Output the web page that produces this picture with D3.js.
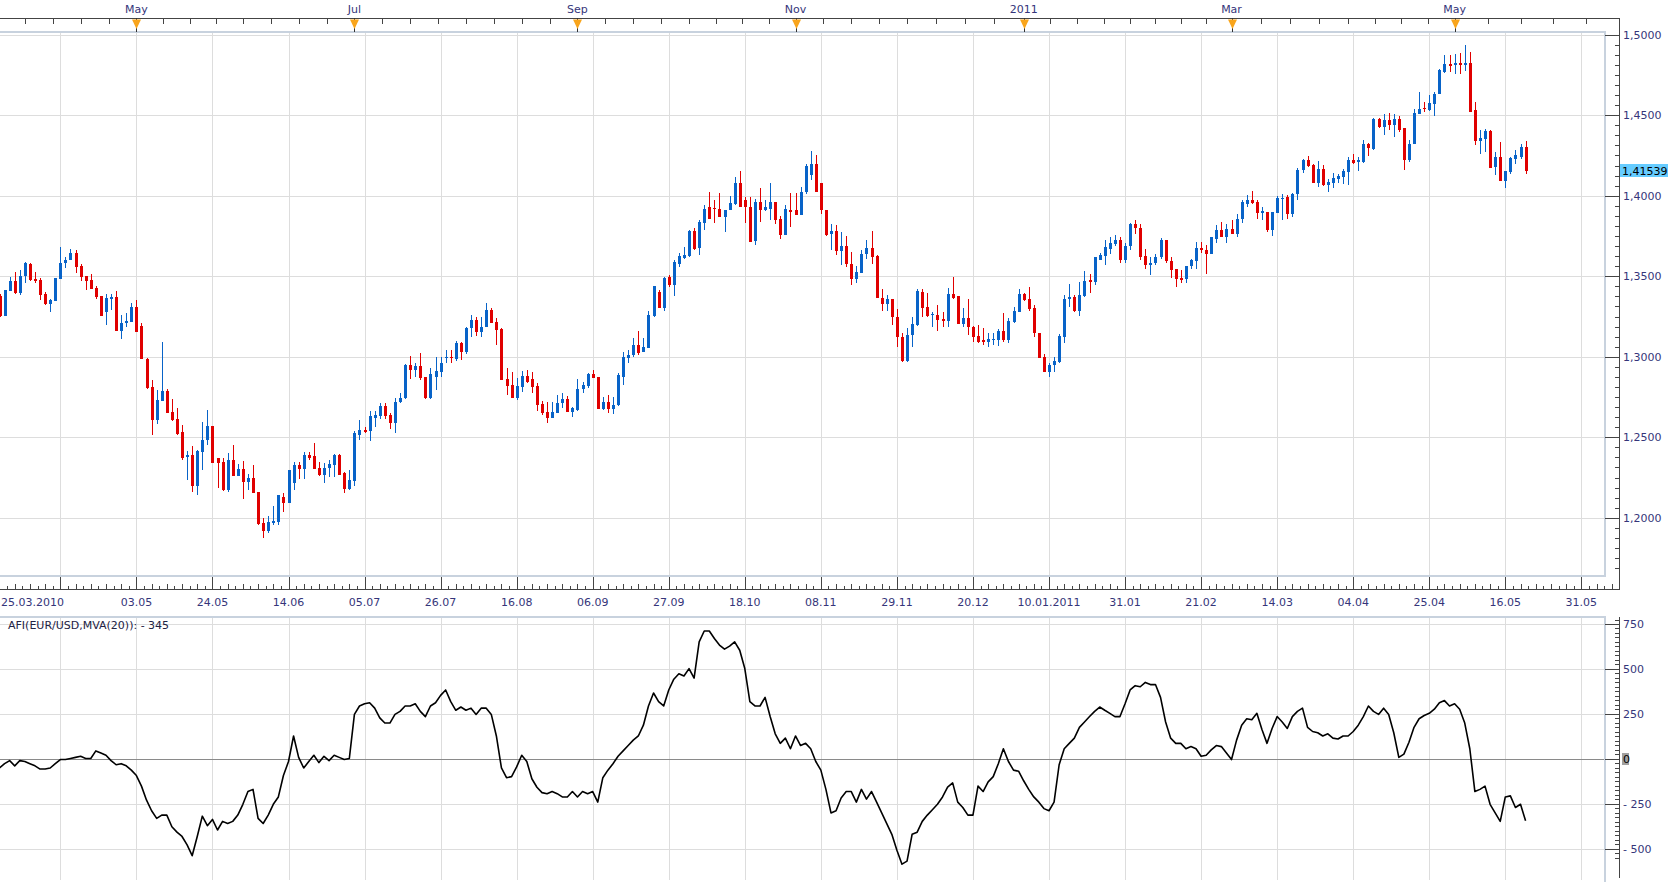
<!DOCTYPE html>
<html>
<head>
<meta charset="utf-8">
<script src="https://cdn.jsdelivr.net/npm/d3@7"></script>
<style>
  body { margin: 0; background: #fff; }
  svg { display: block; font-family: 'DejaVu Sans', Verdana, sans-serif; font-size: 11px; }
  .lbl { fill: #35357a; }
</style>
</head>
<body>
<div id="root"></div>
<script>
// EUR/USD daily candles, 25.03.2010 .. 20.05.2011
const opens = [
  1.3378,1.3253,1.3409,1.3472,1.3397,1.3499,1.3578,1.3484,1.3478,1.3391,
  1.3330,1.3347,1.3486,1.3580,1.3599,1.3647,1.3566,1.3503,1.3478,1.3428,
  1.3378,1.3278,1.3360,1.3372,1.3160,1.3210,1.3216,1.3310,1.3191,1.2988,
  1.2810,1.2607,1.2727,1.2787,1.2657,1.2614,1.2533,1.2376,1.2390,1.2200,
  1.2411,1.2481,1.2570,1.2370,1.2347,1.2173,1.2359,1.2262,1.2301,1.2225,
  1.2245,1.2161,1.1970,1.1919,1.1970,1.1977,1.2132,1.2095,1.2219,1.2328,
  1.2303,1.2390,1.2384,1.2307,1.2266,1.2307,1.2328,1.2390,1.2276,1.2177,
  1.2231,1.2514,1.2545,1.2539,1.2622,1.2632,1.2694,1.2638,1.2591,1.2721,
  1.2742,1.2949,1.2917,1.2942,1.2876,1.2742,1.2876,1.2907,1.2996,1.3000,
  1.2984,1.3083,1.3031,1.3176,1.3228,1.3155,1.3182,1.3290,1.3217,1.3172,
  1.2860,1.2824,1.2746,1.2810,1.2880,1.2860,1.2818,1.2707,1.2657,1.2618,
  1.2653,1.2711,1.2736,1.2659,1.2670,1.2798,1.2818,1.2893,1.2872,1.2676,
  1.2721,1.2676,1.2700,1.2876,1.2990,1.3010,1.3073,1.3031,1.3052,1.3253,
  1.3404,1.3300,1.3496,1.3445,1.3579,1.3616,1.3625,1.3780,1.3678,1.3831,
  1.3927,1.3925,1.3920,1.3869,1.3910,1.3947,1.4080,1.3972,1.3931,1.3720,
  1.3962,1.3914,1.3920,1.3962,1.3858,1.3759,1.3914,1.3910,1.3879,1.4024,
  1.4127,1.4200,1.4080,1.3914,1.3765,1.3780,1.3658,1.3687,1.3579,1.3480,
  1.3521,1.3637,1.3678,1.3625,1.3362,1.3327,1.3356,1.3244,1.3124,1.2975,
  1.3135,1.3197,1.3404,1.3306,1.3265,1.3259,1.3236,1.3224,1.3389,1.3377,
  1.3203,1.3238,1.3186,1.3128,1.3104,1.3093,1.3108,1.3104,1.3162,1.3104,
  1.3217,1.3280,1.3389,1.3356,1.3300,1.3145,1.2996,1.2907,1.2948,1.2969,
  1.3124,1.3356,1.3373,1.3286,1.3377,1.3476,1.3466,1.3604,1.3625,1.3672,
  1.3699,1.3728,1.3600,1.3687,1.3823,1.3802,1.3625,1.3569,1.3583,1.3617,
  1.3728,1.3596,1.3542,1.3488,1.3480,1.3563,1.3596,1.3678,1.3666,1.3637,
  1.3734,1.3790,1.3741,1.3796,1.3761,1.3854,1.3951,1.3976,1.3958,1.3890,
  1.3900,1.3786,1.3894,1.3983,1.3993,1.3885,1.4013,1.4162,1.4220,1.4189,
  1.4080,1.4169,1.4065,1.4080,1.4107,1.4117,1.4148,1.4220,1.4214,1.4210,
  1.4324,1.4293,1.4479,1.4427,1.4468,1.4437,1.4479,1.4419,1.4220,1.4320,
  1.4510,1.4546,1.4535,1.4568,1.4630,1.4768,1.4816,1.4810,1.4824,1.4810,
  1.4824,1.4531,1.4340,1.4355,1.4402,1.4179,1.4241,1.4092,1.4148,1.4231,
  1.4241,1.4303
];
const highs = [
  1.3390,1.3416,1.3497,1.3528,1.3540,1.3586,1.3584,1.3528,1.3490,1.3403,
  1.3360,1.3490,1.3684,1.3622,1.3672,1.3660,1.3578,1.3503,1.3516,1.3441,
  1.3378,1.3390,1.3390,1.3410,1.3260,1.3272,1.3335,1.3353,1.3211,1.2994,
  1.2856,1.2793,1.3091,1.2800,1.2740,1.2682,1.2577,1.2415,1.2446,1.2421,
  1.2595,1.2669,1.2570,1.2370,1.2370,1.2401,1.2452,1.2332,1.2351,1.2274,
  1.2328,1.2161,1.1997,1.2014,1.2074,1.2142,1.2157,1.2297,1.2349,1.2349,
  1.2411,1.2411,1.2462,1.2349,1.2338,1.2359,1.2396,1.2396,1.2287,1.2297,
  1.2541,1.2607,1.2566,1.2665,1.2661,1.2715,1.2711,1.2649,1.2742,1.2777,
  1.2955,1.3004,1.2959,1.3025,1.2876,1.2928,1.3000,1.3000,1.3043,1.3043,
  1.3099,1.3090,1.3186,1.3259,1.3248,1.3248,1.3331,1.3300,1.3238,1.3180,
  1.2928,1.2907,1.2866,1.2913,1.2917,1.2907,1.2835,1.2728,1.2721,1.2721,
  1.2762,1.2773,1.2756,1.2690,1.2860,1.2845,1.2901,1.2917,1.2872,1.2752,
  1.2762,1.2752,1.2897,1.3031,1.3041,1.3118,1.3159,1.3114,1.3284,1.3439,
  1.3414,1.3496,1.3507,1.3600,1.3645,1.3682,1.3786,1.3798,1.3852,1.3941,
  1.4024,1.3976,1.4014,1.3914,1.3999,1.4117,1.4154,1.3993,1.3993,1.3982,
  1.4051,1.3972,1.4080,1.3962,1.3873,1.3941,1.4014,1.4014,1.4055,1.4194,
  1.4276,1.4251,1.4080,1.3914,1.3823,1.3817,1.3776,1.3749,1.3652,1.3563,
  1.3662,1.3724,1.3780,1.3631,1.3418,1.3383,1.3356,1.3294,1.3145,1.3176,
  1.3248,1.3418,1.3418,1.3393,1.3280,1.3321,1.3280,1.3430,1.3497,1.3377,
  1.3300,1.3356,1.3190,1.3197,1.3176,1.3145,1.3145,1.3170,1.3269,1.3238,
  1.3310,1.3420,1.3393,1.3434,1.3321,1.3145,1.3017,1.2962,1.3000,1.3141,
  1.3383,1.3451,1.3383,1.3466,1.3534,1.3517,1.3621,1.3645,1.3728,1.3745,
  1.3755,1.3745,1.3704,1.3831,1.3852,1.3823,1.3672,1.3621,1.3637,1.3740,
  1.3728,1.3617,1.3548,1.3538,1.3563,1.3610,1.3714,1.3714,1.3693,1.3745,
  1.3817,1.3838,1.3827,1.3848,1.3885,1.3972,1.4003,1.4028,1.3972,1.3931,
  1.3900,1.3896,1.3997,1.4009,1.4003,1.4018,1.4174,1.4230,1.4245,1.4200,
  1.4214,1.4189,1.4107,1.4142,1.4138,1.4169,1.4241,1.4262,1.4241,1.4344,
  1.4328,1.4485,1.4485,1.4510,1.4514,1.4506,1.4498,1.4419,1.4344,1.4541,
  1.4644,1.4582,1.4623,1.4644,1.4789,1.4871,1.4871,1.4882,1.4886,1.4934,
  1.4892,1.4582,1.4406,1.4417,1.4406,1.4272,1.4334,1.4154,1.4241,1.4282,
  1.4320,1.4340
];
const lows = [
  1.3245,1.3253,1.3409,1.3392,1.3386,1.3461,1.3472,1.3459,1.3355,1.3324,
  1.3280,1.3347,1.3486,1.3549,1.3599,1.3522,1.3472,1.3416,1.3422,1.3359,
  1.3253,1.3197,1.3291,1.3160,1.3110,1.3184,1.3216,1.3153,1.2984,1.2798,
  1.2514,1.2583,1.2727,1.2653,1.2603,1.2514,1.2359,1.2235,1.2163,1.2142,
  1.2297,1.2452,1.2343,1.2183,1.2169,1.2161,1.2262,1.2262,1.2115,1.2173,
  1.2157,1.1956,1.1877,1.1904,1.1956,1.1956,1.2039,1.2095,1.2170,1.2241,
  1.2241,1.2360,1.2303,1.2260,1.2214,1.2256,1.2256,1.2266,1.2152,1.2173,
  1.2198,1.2483,1.2525,1.2479,1.2566,1.2611,1.2611,1.2554,1.2525,1.2711,
  1.2736,1.2860,1.2876,1.2856,1.2736,1.2736,1.2793,1.2876,1.2959,1.2959,
  1.2976,1.2980,1.3020,1.3124,1.3128,1.3120,1.3182,1.3211,1.3073,1.2855,
  1.2762,1.2746,1.2731,1.2783,1.2835,1.2777,1.2665,1.2638,1.2591,1.2618,
  1.2648,1.2680,1.2659,1.2628,1.2665,1.2777,1.2804,1.2866,1.2676,1.2670,
  1.2649,1.2645,1.2694,1.2825,1.2959,1.3000,1.3010,1.3027,1.3052,1.3248,
  1.3300,1.3284,1.3435,1.3377,1.3559,1.3610,1.3620,1.3662,1.3631,1.3790,
  1.3854,1.3832,1.3865,1.3776,1.3910,1.3941,1.3927,1.3832,1.3714,1.3693,
  1.3838,1.3904,1.3852,1.3827,1.3734,1.3759,1.3807,1.3879,1.3879,1.4013,
  1.4096,1.4024,1.3889,1.3749,1.3662,1.3631,1.3569,1.3559,1.3445,1.3459,
  1.3521,1.3610,1.3579,1.3362,1.3286,1.3286,1.3197,1.3062,1.2969,1.2969,
  1.3062,1.3190,1.3244,1.3244,1.3182,1.3162,1.3186,1.3182,1.3356,1.3203,
  1.3186,1.3135,1.3093,1.3083,1.3073,1.3059,1.3073,1.3066,1.3093,1.3083,
  1.3207,1.3280,1.3348,1.3286,1.3124,1.2994,1.2907,1.2876,1.2907,1.2963,
  1.3087,1.3310,1.3280,1.3253,1.3373,1.3397,1.3445,1.3600,1.3569,1.3641,
  1.3687,1.3584,1.3580,1.3662,1.3761,1.3604,1.3542,1.3507,1.3569,1.3610,
  1.3584,1.3492,1.3431,1.3459,1.3459,1.3548,1.3542,1.3645,1.3517,1.3637,
  1.3704,1.3741,1.3708,1.3761,1.3741,1.3832,1.3931,1.3951,1.3858,1.3852,
  1.3776,1.3749,1.3894,1.3848,1.3858,1.3869,1.3972,1.4142,1.4179,1.4076,
  1.4055,1.4059,1.4024,1.4051,1.4080,1.4071,1.4065,1.4200,1.4154,1.4204,
  1.4245,1.4287,1.4423,1.4375,1.4411,1.4365,1.4396,1.4158,1.4210,1.4320,
  1.4506,1.4520,1.4526,1.4493,1.4630,1.4762,1.4768,1.4758,1.4754,1.4774,
  1.4520,1.4313,1.4257,1.4272,1.4175,1.4127,1.4092,1.4051,1.4138,1.4200,
  1.4231,1.4138
];
const closes = [
  1.3253,1.3416,1.3472,1.3397,1.3503,1.3580,1.3478,1.3472,1.3386,1.3330,
  1.3353,1.3490,1.3584,1.3603,1.3647,1.3559,1.3497,1.3472,1.3422,1.3372,
  1.3253,1.3366,1.3372,1.3160,1.3210,1.3222,1.3310,1.3153,1.2984,1.2804,
  1.2607,1.2731,1.2789,1.2653,1.2607,1.2518,1.2370,1.2390,1.2200,1.2415,
  1.2483,1.2570,1.2343,1.2343,1.2173,1.2359,1.2262,1.2301,1.2225,1.2245,
  1.2157,1.1962,1.1919,1.1977,1.1981,1.2142,1.2095,1.2297,1.2328,1.2303,
  1.2390,1.2370,1.2303,1.2266,1.2307,1.2332,1.2390,1.2266,1.2177,1.2235,
  1.2525,1.2545,1.2535,1.2632,1.2638,1.2694,1.2632,1.2591,1.2721,1.2742,
  1.2949,1.2917,1.2942,1.2866,1.2742,1.2893,1.2913,1.2959,1.3000,1.2996,
  1.3083,1.3031,1.3180,1.3228,1.3155,1.3186,1.3290,1.3211,1.3166,1.2855,
  1.2818,1.2746,1.2818,1.2880,1.2845,1.2814,1.2700,1.2649,1.2618,1.2657,
  1.2715,1.2736,1.2659,1.2680,1.2798,1.2825,1.2893,1.2866,1.2676,1.2721,
  1.2676,1.2700,1.2886,1.3000,1.3010,1.3073,1.3021,1.3062,1.3259,1.3439,
  1.3304,1.3490,1.3445,1.3590,1.3625,1.3631,1.3780,1.3672,1.3838,1.3920,
  1.3854,1.3921,1.3865,1.3914,1.3955,1.4080,1.3927,1.3927,1.3714,1.3962,
  1.3910,1.3927,1.3962,1.3852,1.3759,1.3920,1.3900,1.3879,1.4024,1.4183,
  1.4200,1.4024,1.3910,1.3755,1.3780,1.3658,1.3687,1.3579,1.3480,1.3527,
  1.3637,1.3678,1.3621,1.3362,1.3327,1.3356,1.3244,1.3120,1.2975,1.3135,
  1.3203,1.3410,1.3300,1.3255,1.3268,1.3228,1.3224,1.3389,1.3362,1.3203,
  1.3238,1.3182,1.3124,1.3093,1.3099,1.3108,1.3113,1.3162,1.3104,1.3221,
  1.3286,1.3389,1.3352,1.3294,1.3145,1.2994,1.2907,1.2948,1.2973,1.3128,
  1.3356,1.3373,1.3286,1.3383,1.3472,1.3472,1.3617,1.3631,1.3683,1.3708,
  1.3728,1.3600,1.3687,1.3823,1.3800,1.3617,1.3569,1.3584,1.3621,1.3728,
  1.3596,1.3538,1.3480,1.3480,1.3563,1.3604,1.3678,1.3662,1.3637,1.3741,
  1.3786,1.3745,1.3796,1.3761,1.3858,1.3958,1.3976,1.3956,1.3894,1.3904,
  1.3786,1.3896,1.3987,1.3989,1.3885,1.4013,1.4162,1.4220,1.4183,1.4080,
  1.4169,1.4065,1.4086,1.4111,1.4121,1.4154,1.4220,1.4204,1.4220,1.4324,
  1.4299,1.4479,1.4427,1.4468,1.4437,1.4479,1.4410,1.4220,1.4324,1.4514,
  1.4541,1.4539,1.4576,1.4634,1.4779,1.4816,1.4806,1.4824,1.4810,1.4824,
  1.4520,1.4340,1.4361,1.4402,1.4175,1.4241,1.4092,1.4154,1.4237,1.4251,
  1.4303,1.4154
];
// AFI(EUR/USD, MVA(20)) indicator, one value per candle
const afi = [
  -51,-27,-10,-39,-10,-15,-27,-39,-57,-57,
  -51,-27,-4,-4,2,8,14,2,2,44,
  32,20,-10,-33,-27,-39,-63,-93,-152,-230,
  -289,-331,-313,-313,-378,-408,-432,-479,-539,-432,
  -319,-372,-337,-396,-348,-360,-348,-313,-253,-182,
  -170,-331,-360,-313,-253,-212,-93,-15,127,8,
  -51,-15,20,-21,14,-10,20,8,-4,2,
  247,294,306,312,282,228,199,199,247,264,
  294,294,306,264,235,294,312,353,383,318,
  270,288,270,282,247,282,282,247,127,-51,
  -105,-99,-45,20,-15,-111,-158,-188,-194,-182,
  -194,-212,-212,-182,-212,-182,-194,-182,-241,-105,
  -63,-27,14,44,74,104,127,187,294,366,
  318,294,383,443,473,461,502,449,651,711,
  711,669,633,610,627,651,604,502,318,294,
  294,342,235,139,86,115,56,127,74,86,
  56,-15,-63,-170,-301,-289,-218,-182,-182,-241,
  -170,-224,-182,-241,-301,-360,-420,-509,-586,-569,
  -420,-408,-348,-313,-283,-253,-212,-158,-134,-241,
  -271,-313,-313,-152,-182,-128,-99,-27,56,-15,
  -63,-69,-122,-170,-212,-241,-277,-289,-241,-33,
  56,86,115,175,205,235,264,288,270,253,
  235,235,306,383,407,401,425,413,413,342,
  205,115,86,86,56,68,56,14,20,50,
  74,68,32,-4,104,187,223,217,253,163,
  86,169,235,205,169,235,264,282,175,152,
  145,127,139,115,110,127,127,152,187,235,
  294,264,247,282,247,145,8,26,92,175,
  223,241,253,276,312,324,294,306,276,199,
  56,-182,-170,-152,-253,-301,-348,-212,-206,-271,
  -253,-345
];

const bottomLabels = ['25.03.2010', '03.05', '24.05', '14.06', '05.07', '26.07', '16.08', '06.09',
  '27.09', '18.10', '08.11', '29.11', '20.12', '10.01.2011', '31.01', '21.02', '14.03', '04.04',
  '25.04', '16.05', '31.05'];
const monthKeys = ['2010-05', '2010-07', '2010-09', '2010-11', '2011-01', '2011-03', '2011-05'];
const monthLabels = ['May', 'Jul', 'Sep', 'Nov', '2011', 'Mar', 'May'];
const priceTicks = [1.2, 1.25, 1.3, 1.35, 1.4, 1.45, 1.5];
const afiTicks = [750, 500, 250, 0, -250, -500];
const lastPrice = 1.41539;
const afiTitle = 'AFI(EUR/USD,MVA(20)): - 345';

const width = 1676;
const height = 882;
const plotRight = 1605;
const axisX = 1619;
const main = { top: 32, bottom: 576 };
const lower = { top: 617, bottom: 880 };
const blue = '#0863c8';
const red = '#e00000';
const gridColor = '#dddddd';
const frameColor = '#c8d2de';
const axisColor = '#444';

// slots: weekdays while there is data, calendar days afterwards (as the chart does)
const N = closes.length;
const slots = [];
{
  const d = new Date(2010, 2, 1);
  let traded = 0;
  while (slots.length < 420) {
    const wd = d.getDay();
    const future = traded >= N + 18;
    if (future || (wd !== 0 && wd !== 6)) {
      slots.push(new Date(d));
      if (!future) traded++;
    }
    d.setDate(d.getDate() + 1);
  }
}
const offset = 18; // slot of 25.03.2010
const slotDate = i => slots[i + offset];
const fmtDay = d3.timeFormat('%d.%m');
const fmtMonth = d3.timeFormat('%Y-%m');

const x = d3.scaleLinear().domain([27, 297]).range([136.4, 1505.3]);
const y = d3.scaleLinear().domain([1.2, 1.5]).range([517.8, 34.7]);
const yAfi = d3.scaleLinear().domain([-500, 750]).range([848.7, 624]);

const lastIndex = Math.floor(x.invert(axisX));

const svg = d3.select('#root').append('svg')
  .attr('width', width)
  .attr('height', height);

const defs = svg.append('defs');
defs.append('clipPath').attr('id', 'clip-main')
  .append('rect').attr('x', 0).attr('y', main.top).attr('width', plotRight).attr('height', main.bottom - main.top);
defs.append('clipPath').attr('id', 'clip-lower')
  .append('rect').attr('x', 0).attr('y', lower.top).attr('width', plotRight).attr('height', lower.bottom - lower.top);

// vertical grid every 15 slots
const gridIdx = d3.range(12, lastIndex + 1, 15);

// month starts
const monthStarts = [];
for (let i = -offset + 1; i <= lastIndex + 40; i++) {
  if (slotDate(i) && slotDate(i - 1) && slotDate(i).getMonth() !== slotDate(i - 1).getMonth()) monthStarts.push(i);
}
monthStarts.unshift(-offset);

// ---------- main panel ----------
const mainG = svg.append('g');

mainG.append('g').selectAll('line')
  .data(gridIdx)
  .join('line')
  .attr('x1', d => Math.round(x(d)) + 0.5)
  .attr('x2', d => Math.round(x(d)) + 0.5)
  .attr('y1', main.top)
  .attr('y2', main.bottom)
  .attr('stroke', gridColor);

mainG.append('g').selectAll('line')
  .data(priceTicks)
  .join('line')
  .attr('x1', 0)
  .attr('x2', plotRight)
  .attr('y1', d => Math.round(y(d)) + 0.5)
  .attr('y2', d => Math.round(y(d)) + 0.5)
  .attr('stroke', gridColor);

const candles = d3.range(N).map(i => ({ i, o: opens[i], h: highs[i], l: lows[i], c: closes[i] }));

const candleG = mainG.append('g')
  .attr('clip-path', 'url(#clip-main)')
  .attr('shape-rendering', 'crispEdges');

candleG.selectAll('line')
  .data(candles)
  .join('line')
  .attr('x1', d => Math.round(x(d.i)) + 0.5)
  .attr('x2', d => Math.round(x(d.i)) + 0.5)
  .attr('y1', d => y(d.h))
  .attr('y2', d => y(d.l))
  .attr('stroke', d => (d.c >= d.o ? blue : red));

candleG.selectAll('rect')
  .data(candles)
  .join('rect')
  .attr('x', d => Math.round(x(d.i)) - 1)
  .attr('width', 3)
  .attr('y', d => Math.min(y(d.o), y(d.c)))
  .attr('height', d => Math.max(1.5, Math.abs(y(d.o) - y(d.c))))
  .attr('fill', d => (d.c >= d.o ? blue : red));

mainG.append('rect')
  .attr('x', -2)
  .attr('y', main.top)
  .attr('width', plotRight + 2)
  .attr('height', main.bottom - main.top)
  .attr('fill', 'none')
  .attr('stroke', frameColor)
  .attr('stroke-width', 2);

// top axis with month markers
const topAxis = svg.append('g').attr('shape-rendering', 'crispEdges');
topAxis.append('line')
  .attr('x1', 0).attr('x2', axisX + 0.5)
  .attr('y1', 18.5).attr('y2', 18.5)
  .attr('stroke', axisColor);

const topTicks = [];
monthStarts.forEach((m, k) => {
  const next = monthStarts[k + 1];
  if (next === undefined) return;
  for (let q = 0; q < 4; q++) topTicks.push(x(m) + (x(next) - x(m)) * q / 4);
});
topAxis.selectAll('line.tick')
  .data(topTicks.filter(v => v >= 0 && v <= axisX))
  .join('line')
  .attr('class', 'tick')
  .attr('x1', d => Math.round(d) + 0.5)
  .attr('x2', d => Math.round(d) + 0.5)
  .attr('y1', 18)
  .attr('y2', 24)
  .attr('stroke', axisColor);

const marks = monthKeys.map((k, j) => ({
  i: monthStarts.find(m => fmtMonth(slotDate(m)) === k),
  label: monthLabels[j],
}));

topAxis.selectAll('line.mark')
  .data(marks)
  .join('line')
  .attr('class', 'mark')
  .attr('x1', d => Math.round(x(d.i)) + 0.5)
  .attr('x2', d => Math.round(x(d.i)) + 0.5)
  .attr('y1', 18)
  .attr('y2', 32)
  .attr('stroke', '#333');

topAxis.selectAll('path.mark')
  .data(marks)
  .join('path')
  .attr('class', 'mark')
  .attr('shape-rendering', 'auto')
  .attr('d', d => {
    const cx = Math.round(x(d.i)) + 0.5;
    return `M${cx - 4.5},19.5L${cx + 4.5},19.5L${cx},29Z`;
  })
  .attr('fill', '#f9a51c');

topAxis.selectAll('text')
  .data(marks)
  .join('text')
  .attr('class', 'lbl')
  .attr('x', d => x(d.i))
  .attr('y', 13)
  .attr('text-anchor', 'middle')
  .text(d => d.label);

// bottom date axis
const bottomAxis = svg.append('g').attr('shape-rendering', 'crispEdges');
bottomAxis.append('line')
  .attr('x1', 0).attr('x2', axisX + 0.5)
  .attr('y1', 589.5).attr('y2', 589.5)
  .attr('stroke', axisColor);

// minor ticks: nine between two grid lines, alternating in length
const minorTicks = [];
d3.range(-3, gridIdx.length + 1).forEach(k => {
  for (let m = 1; m < 10; m++) minorTicks.push({ v: 12 + 15 * k + m * 1.5, long: m % 2 === 0 });
});
bottomAxis.selectAll('line.minor')
  .data(minorTicks.filter(t => x(t.v) >= 0 && x(t.v) <= axisX))
  .join('line')
  .attr('class', 'minor')
  .attr('x1', d => Math.round(x(d.v)) + 0.5)
  .attr('x2', d => Math.round(x(d.v)) + 0.5)
  .attr('y1', d => (d.long ? 584 : 586))
  .attr('y2', 589)
  .attr('stroke', axisColor);

bottomAxis.selectAll('line.major')
  .data(gridIdx)
  .join('line')
  .attr('class', 'major')
  .attr('x1', d => Math.round(x(d)) + 0.5)
  .attr('x2', d => Math.round(x(d)) + 0.5)
  .attr('y1', 577)
  .attr('y2', 589)
  .attr('stroke', axisColor);

const dateTicks = bottomLabels.map((label, j) => {
  if (j === 0) return { x: 1, label, anchor: 'start' };
  const i = gridIdx.find(g => fmtDay(slotDate(g)) === label.slice(0, 5));
  return { x: x(i), label, anchor: 'middle' };
});

bottomAxis.selectAll('text')
  .data(dateTicks)
  .join('text')
  .attr('class', 'lbl')
  .attr('x', d => d.x)
  .attr('y', 606)
  .attr('text-anchor', d => d.anchor)
  .text(d => d.label);

// right price axis
const priceAxis = svg.append('g').attr('shape-rendering', 'crispEdges');
priceAxis.append('line')
  .attr('x1', axisX + 0.5).attr('x2', axisX + 0.5)
  .attr('y1', 18).attr('y2', 590)
  .attr('stroke', axisColor);

const priceMinor = d3.range(0, 56).map(k => 1.15 + k * 0.00625)
  .filter(v => y(v) > main.top && y(v) < main.bottom);
priceAxis.selectAll('line.minor')
  .data(priceMinor)
  .join('line')
  .attr('class', 'minor')
  .attr('x1', axisX - 4)
  .attr('x2', axisX)
  .attr('y1', d => Math.round(y(d)) + 0.5)
  .attr('y2', d => Math.round(y(d)) + 0.5)
  .attr('stroke', axisColor);

priceAxis.selectAll('line.major')
  .data(priceTicks)
  .join('line')
  .attr('class', 'major')
  .attr('x1', plotRight)
  .attr('x2', axisX)
  .attr('y1', d => Math.round(y(d)) + 0.5)
  .attr('y2', d => Math.round(y(d)) + 0.5)
  .attr('stroke', axisColor);

const fmtPrice = v => d3.format('.4f')(v).replace('.', ',');
priceAxis.selectAll('text')
  .data(priceTicks)
  .join('text')
  .attr('class', 'lbl')
  .attr('x', axisX + 4)
  .attr('y', d => y(d) + 4)
  .text(fmtPrice);

priceAxis.append('rect')
  .attr('x', axisX + 1)
  .attr('y', y(lastPrice) - 6.5)
  .attr('width', 48)
  .attr('height', 13)
  .attr('fill', '#66ccff');
priceAxis.append('text')
  .attr('x', axisX + 3)
  .attr('y', y(lastPrice) + 4)
  .attr('fill', '#000')
  .text(d3.format('.5f')(lastPrice).replace('.', ','));

// ---------- lower panel ----------
const lowG = svg.append('g');

lowG.append('g').selectAll('line')
  .data(gridIdx)
  .join('line')
  .attr('x1', d => Math.round(x(d)) + 0.5)
  .attr('x2', d => Math.round(x(d)) + 0.5)
  .attr('y1', lower.top)
  .attr('y2', lower.bottom)
  .attr('stroke', gridColor)
  .attr('shape-rendering', 'crispEdges');

lowG.append('g').selectAll('line')
  .data(afiTicks)
  .join('line')
  .attr('x1', 0)
  .attr('x2', plotRight)
  .attr('y1', d => Math.round(yAfi(d)) + 0.5)
  .attr('y2', d => Math.round(yAfi(d)) + 0.5)
  .attr('stroke', d => (d === 0 ? '#8a8a8a' : gridColor))
  .attr('shape-rendering', 'crispEdges');

lowG.append('rect')
  .attr('x', -2)
  .attr('y', lower.top)
  .attr('width', plotRight + 2)
  .attr('height', lower.bottom - lower.top + 4)
  .attr('fill', 'none')
  .attr('stroke', frameColor)
  .attr('stroke-width', 2);

lowG.append('path')
  .datum(afi)
  .attr('clip-path', 'url(#clip-lower)')
  .attr('fill', 'none')
  .attr('stroke', '#000')
  .attr('stroke-width', 1.6)
  .attr('stroke-linejoin', 'round')
  .attr('d', d3.line().x((d, i) => x(i)).y(d => yAfi(d)));

lowG.append('text')
  .attr('x', 8)
  .attr('y', 629)
  .attr('fill', '#222244')
  .text(afiTitle);

const afiAxis = svg.append('g').attr('shape-rendering', 'crispEdges');
afiAxis.append('line')
  .attr('x1', axisX + 0.5).attr('x2', axisX + 0.5)
  .attr('y1', lower.top).attr('y2', 878)
  .attr('stroke', axisColor);

afiAxis.selectAll('line.minor')
  .data(d3.range(-550, 776, 25).filter(v => yAfi(v) > lower.top && yAfi(v) < 878))
  .join('line')
  .attr('class', 'minor')
  .attr('x1', axisX - 4)
  .attr('x2', axisX)
  .attr('y1', d => Math.round(yAfi(d)) + 0.5)
  .attr('y2', d => Math.round(yAfi(d)) + 0.5)
  .attr('stroke', axisColor);

afiAxis.selectAll('line.major')
  .data(afiTicks)
  .join('line')
  .attr('class', 'major')
  .attr('x1', plotRight)
  .attr('x2', axisX)
  .attr('y1', d => Math.round(yAfi(d)) + 0.5)
  .attr('y2', d => Math.round(yAfi(d)) + 0.5)
  .attr('stroke', axisColor);

afiAxis.append('rect')
  .attr('x', axisX + 3)
  .attr('y', yAfi(0) - 6)
  .attr('width', 7)
  .attr('height', 12)
  .attr('fill', '#a0a0a0');

afiAxis.selectAll('text')
  .data(afiTicks)
  .join('text')
  .attr('class', d => (d === 0 ? null : 'lbl'))
  .attr('fill', d => (d === 0 ? '#000' : null))
  .attr('x', axisX + 4)
  .attr('y', d => yAfi(d) + 4)
  .text(d => (d < 0 ? `- ${-d}` : d));
</script>
</body>
</html>
